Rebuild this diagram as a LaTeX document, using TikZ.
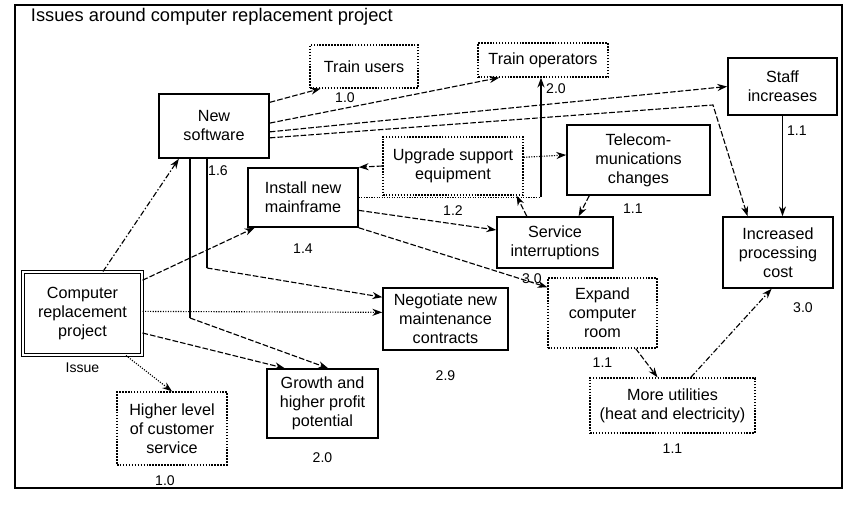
\documentclass[tikz,border=0pt]{standalone}
\usepackage{fontspec}
\setmainfont{Liberation Sans}
\usetikzlibrary{arrows.meta,positioning}

\tikzset{
    % Issue boxes
    issue/.style={rectangle,draw,line width=1.1pt,align=center,inner sep=2pt,font=\fontsize{11.5}{13.5}\selectfont},
    issuelight/.style={issue,densely dotted,line width=0.9pt},
    issueroot/.style={issue,double,double distance=1.6pt,line width=0.7pt},
    weight/.style={font=\fontsize{10}{12}\selectfont,inner sep=1pt},
    % Link styles
    link/.style={-{Stealth[length=7pt,width=5pt]},line width=0.8pt,dash pattern=on 4pt off 1.5pt},
    solidlink/.style={link,solid},
    dotlink/.style={link,densely dotted},
    dashdotlink/.style={link,dash pattern=on 4pt off 1.5pt on 1pt off 1.5pt},
    plainlink/.style={line width=0.8pt}
}

\begin{document}
\begin{tikzpicture}[x=0.025cm,y=-0.025cm]
  \useasboundingbox (0,0) rectangle (844,505);

  % Frame and title
  \draw[line width=1pt] (15,5) rectangle (842,488);
  \node[anchor=west,font=\fontsize{13}{15}\selectfont] (title) at (26,17) {Issues around computer replacement project};

  % Issue boxes
  \node[issueroot,minimum width=2.975cm,minimum height=2.075cm] (comp) at (82.5,313.5) {Computer\\replacement\\project};
  \node[issue,minimum width=2.75cm,minimum height=1.6cm] (ns) at (214,126) {New\\software};
  \node[issuelight,minimum width=2.7cm,minimum height=1.075cm] (trainusers) at (364,66.5) {Train users};
  \node[issuelight,minimum width=3.25cm,minimum height=0.85cm] (trainop) at (543,60) {Train operators};
  \node[issue,minimum width=2.725cm,minimum height=1.425cm] (staff) at (782.5,86.5) {Staff\\increases};
  \node[issuelight,minimum width=3.5cm,minimum height=1.45cm] (upgrade) at (453,166) {Upgrade support\\equipment};
  \node[issue,minimum width=3.575cm,minimum height=1.75cm] (telecom) at (638.5,160) {Telecom-\\munications\\changes};
  \node[issue,minimum width=2.75cm,minimum height=1.475cm] (install) at (303,197.5) {Install new\\mainframe};
  \node[issue,minimum width=2.9cm,minimum height=1.275cm] (service) at (555,242.5) {Service\\interruptions};
  \node[issue,minimum width=2.75cm,minimum height=1.775cm] (incr) at (778,252.5) {Increased\\processing\\cost};
  \node[issue,minimum width=3.125cm,minimum height=1.55cm] (neg) at (445.5,319) {Negotiate new\\maintenance\\contracts};
  \node[issuelight,minimum width=2.725cm,minimum height=1.75cm] (expand) at (602.5,313) {Expand\\computer\\room};
  \node[issuelight,minimum width=4.125cm,minimum height=1.375cm] (utilities) at (672.5,405.5) {More utilities\\(heat and electricity)};
  \node[issue,minimum width=2.775cm,minimum height=1.725cm] (growth) at (322.5,403.5) {Growth and\\higher profit\\potential};
  \node[issuelight,minimum width=2.75cm,minimum height=1.825cm] (higher) at (172,428.5) {Higher level\\of customer\\service};

  % Weights
  \node[weight,below=4pt of comp.south] {Issue};
  \node[weight,below=4pt of ns.south,xshift=0.1cm] {1.6};
  \node[weight,below=2pt of trainusers.south,xshift=-0.475cm] {1.0};
  \node[weight,below=3.3pt of trainop.south,xshift=0.325cm] {2.0};
  \node[weight,below=6pt of staff.south,xshift=0.36cm] {1.1};
  \node[weight,below=6pt of upgrade.south] {1.2};
  \node[weight,below=4.7pt of telecom.south,xshift=-0.14cm] {1.1};
  \node[weight,below=10.5pt of install.south] {1.4};
  \node[weight,below=2pt of service.south,xshift=-0.575cm] {3.0};
  \node[weight,below=9pt of incr.south,xshift=0.625cm] {3.0};
  \node[weight,below=13pt of neg.south] {2.9};
  \node[weight,below=5.5pt of expand.south] {1.1};
  \node[weight,below=6pt of utilities.south] {1.1};
  \node[weight,below=9pt of growth.south] {2.0};
  \node[weight,below=6pt of higher.south,xshift=-0.175cm] {1.0};

  % Bends
  \coordinate (nsknee1) at (207,268);
  \coordinate (nsknee2) at (190,318);
  \coordinate (nsknee3) at (713,105);
  \coordinate (opknee) at (541,197.5);

  % Links from the project
  \draw[dashdotlink] (comp.64) -- (ns.223);
  \draw[link] (comp.29) -- (install.212);
  \draw[dotlink] (comp.2) -- (neg.174);
  \draw[link] (comp.-18) -- (growth.137);
  \draw[dotlink] (comp.-44) -- (higher.north);

  % Links from the new software
  \draw[link] (ns.23) -- (trainusers.207);
  \draw[link] (ns.3) -- (trainop.202);
  \draw[link] (ns.-6) -- (staff.west);
  \draw[link] (ns.-12) -- (nsknee3) -- (incr.130);
  \draw[plainlink] (ns.south -| nsknee1) -- (nsknee1);
  \draw[link] (nsknee1) -- (neg.161);
  \draw[plainlink] (ns.south -| nsknee2) -- (nsknee2);
  \draw[link] (nsknee2) -- (growth.81);

  % Links from the mainframe
  \draw[plainlink,densely dotted] (install.east) -- (opknee);
  \draw[solidlink] (opknee) -- (opknee |- trainop.south);
  \draw[link] (install.-13) -- (service.168);
  \draw[link] (install.south east) -- (expand.155);

  % Remaining links
  \draw[link] (upgrade.west) -- (install.north east);
  \draw[dotlink] (upgrade.7) -- (telecom.176);
  \draw[link] (service.137) -- (upgrade.-25);
  \draw[link] (telecom.216) -- (service.48);
  \draw[solidlink] (staff.south) -- (staff.south |- incr.north);
  \draw[link] (expand.-47) -- (utilities.118);
  \draw[dashdotlink] (utilities.57) -- (incr.260);
\end{tikzpicture}
\end{document}
